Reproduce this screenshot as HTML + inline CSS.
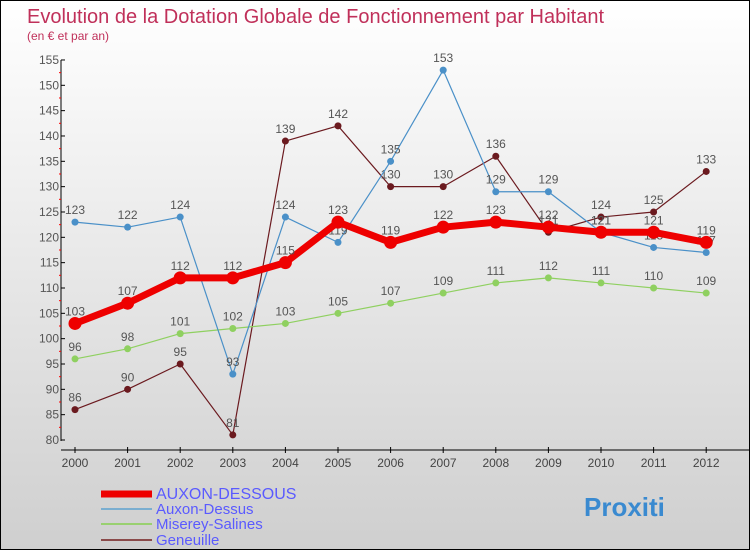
<!DOCTYPE html>
<html><head><meta charset="utf-8"><style>
body{margin:0;}
#wrap{width:748px;height:548px;border:1px solid #000;background:linear-gradient(#ffffff,#cfcfcf);position:relative;overflow:hidden;font-family:"Liberation Sans",sans-serif;}
</style></head><body>
<div id="wrap">
<svg id="chart" width="748" height="548"></svg>
</div>
<script>
const years=["2000","2001","2002","2003","2004","2005","2006","2007","2008","2009","2010","2011","2012"];
const auxonDessous=[103,107,112,112,115,123,119,122,123,122,121,121,119];
const auxonDessus=[123,122,124,93,124,119,135,153,129,129,121,118,117];
const miserey=[96,98,101,102,103,105,107,109,111,112,111,110,109];
const geneuille=[86,90,95,81,139,142,130,130,136,121,124,125,133];
const yTicks=[80,85,90,95,100,105,110,115,120,125,130,135,140,145,150,155];
const ns="http://www.w3.org/2000/svg";
const svg=document.getElementById('chart');
const X=i=>74+i*52.6;
const Y=v=>439-(v-80)*5.067;
function mk(t,a,p){const e=document.createElementNS(ns,t);for(const k in a)e.setAttribute(k,a[k]);(p||svg).appendChild(e);return e;}
let t=mk('text',{x:26,y:22,'font-size':20,fill:'#c0305a'});t.textContent='Evolution de la Dotation Globale de Fonctionnement par Habitant';

t=mk('text',{x:26,y:39,'font-size':12,fill:'#c0305a'});t.textContent='(en € et par an)';

let ax=mk('line',{x1:60,y1:59,x2:60,y2:440,stroke:'#000'});

ax=mk('line',{x1:60,y1:449,x2:748,y2:449,stroke:'#000'});

yTicks.forEach(v=>{mk('line',{x1:60,y1:Y(v),x2:64,y2:Y(v),stroke:'#000'});
if(v<155)mk('line',{x1:58,y1:Y(v+2.5),x2:60,y2:Y(v+2.5),stroke:'#f00'});
const l=mk('text',{x:58,y:Y(v)+4,'font-size':12,fill:'#555','text-anchor':'end'});l.textContent=v;
});
years.forEach((y,i)=>{mk('line',{x1:X(i),y1:446,x2:X(i),y2:452,stroke:'#000'});
const l=mk('text',{x:X(i),y:466,'font-size':12,fill:'#444','text-anchor':'middle'});l.textContent=y;
});
function series(d,col,w,r,name,lab){
const g=mk('g',{});
mk('polyline',{points:d.map((v,i)=>X(i)+','+Y(v)).join(' '),fill:'none',stroke:col,'stroke-width':w,'stroke-linejoin':'round'},g);
d.forEach((v,i)=>{const c=mk('circle',{cx:X(i),cy:Y(v),r:r,fill:col},g);

const l=mk('text',{x:X(i),y:Y(v)-8,'font-size':12,fill:'#555','text-anchor':'middle'},g);l.textContent=v;});}
series(geneuille,'#6b1a1f',1.2,3.5,'series-geneuille');
series(miserey,'#8fd060',1.2,3.5,'series-miserey-salines');
series(auxonDessus,'#4a90c8',1.2,3.5,'series-auxon-dessus');
series(auxonDessous,'#ee0000',7,6.5,'series-auxon-dessous');
const leg=[["AUXON-DESSOUS",'#ee0000',7,493,16],["Auxon-Dessus",'#7aaed0',2,508,15],["Miserey-Salines",'#99d070',2,523,15],["Geneuille",'#8a4a4a',2,539,15]];
leg.forEach(l=>{const g=mk('g',{});
mk('line',{x1:100,y1:l[3],x2:151,y2:l[3],stroke:l[1],'stroke-width':l[2]},g);
const tx=mk('text',{x:155,y:l[3]+5,'font-size':l[4],fill:'#5a5aff'},g);tx.textContent=l[0];});
const p=mk('text',{x:583,y:515,'font-size':26,'font-weight':'bold',fill:'#3a8ad0'});p.textContent='Proxiti';

</script>
</body></html>
